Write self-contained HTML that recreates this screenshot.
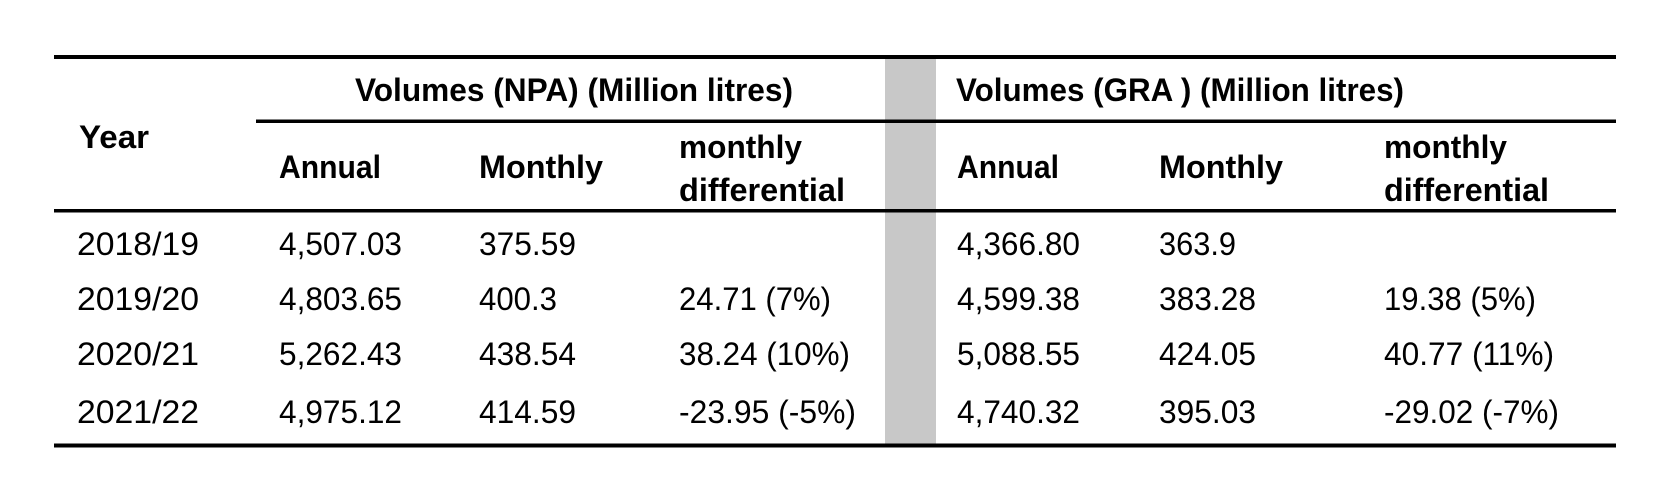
<!DOCTYPE html>
<html><head><meta charset="utf-8"><style>
html,body{margin:0;padding:0;background:#fff;width:1658px;height:504px;overflow:hidden}
svg text{font-family:"Liberation Sans",sans-serif;font-size:32px;fill:#000}
.b{font-weight:bold}
</style></head><body>
<svg width="1658" height="504" xmlns="http://www.w3.org/2000/svg">
<rect x="885" y="55" width="51" height="391" fill="#c8c8c8"/>
<rect x="54" y="55" width="1562" height="4" fill="#000"/>
<rect x="256" y="119.5" width="1360" height="3.5" fill="#000"/>
<rect x="54" y="209" width="1562" height="3.5" fill="#000"/>
<rect x="54" y="443.5" width="1562" height="4" fill="#000"/>
<g class="b">
<text class="b" x="355" y="101" textLength="438" lengthAdjust="spacingAndGlyphs">Volumes (NPA) (Million litres)</text>
<text class="b" x="956" y="101" textLength="448" lengthAdjust="spacingAndGlyphs">Volumes (GRA ) (Million litres)</text>
<text class="b" x="79" y="148" textLength="70" lengthAdjust="spacingAndGlyphs">Year</text>
<text class="b" x="279" y="178" textLength="102" lengthAdjust="spacingAndGlyphs">Annual</text>
<text class="b" x="479" y="178" textLength="124" lengthAdjust="spacingAndGlyphs">Monthly</text>
<text class="b" x="679" y="158" textLength="123" lengthAdjust="spacingAndGlyphs">monthly</text>
<text class="b" x="679" y="201" textLength="166" lengthAdjust="spacingAndGlyphs">differential</text>
<text class="b" x="957" y="178" textLength="102" lengthAdjust="spacingAndGlyphs">Annual</text>
<text class="b" x="1159" y="178" textLength="124" lengthAdjust="spacingAndGlyphs">Monthly</text>
<text class="b" x="1384" y="158" textLength="123" lengthAdjust="spacingAndGlyphs">monthly</text>
<text class="b" x="1384" y="201" textLength="165" lengthAdjust="spacingAndGlyphs">differential</text>
</g>
<g>
<text x="77" y="255" textLength="122" lengthAdjust="spacingAndGlyphs">2018/19</text>
<text x="279" y="255" textLength="123" lengthAdjust="spacingAndGlyphs">4,507.03</text>
<text x="479" y="255" textLength="97" lengthAdjust="spacingAndGlyphs">375.59</text>
<text x="957" y="255" textLength="123" lengthAdjust="spacingAndGlyphs">4,366.80</text>
<text x="1159" y="255" textLength="77" lengthAdjust="spacingAndGlyphs">363.9</text>

<text x="77" y="310" textLength="122" lengthAdjust="spacingAndGlyphs">2019/20</text>
<text x="279" y="310" textLength="123" lengthAdjust="spacingAndGlyphs">4,803.65</text>
<text x="479" y="310" textLength="78" lengthAdjust="spacingAndGlyphs">400.3</text>
<text x="679" y="310" textLength="152" lengthAdjust="spacingAndGlyphs">24.71 (7%)</text>
<text x="957" y="310" textLength="123" lengthAdjust="spacingAndGlyphs">4,599.38</text>
<text x="1159" y="310" textLength="97" lengthAdjust="spacingAndGlyphs">383.28</text>
<text x="1384" y="310" textLength="152" lengthAdjust="spacingAndGlyphs">19.38 (5%)</text>

<text x="77" y="365" textLength="122" lengthAdjust="spacingAndGlyphs">2020/21</text>
<text x="279" y="365" textLength="123" lengthAdjust="spacingAndGlyphs">5,262.43</text>
<text x="479" y="365" textLength="97" lengthAdjust="spacingAndGlyphs">438.54</text>
<text x="679" y="365" textLength="171" lengthAdjust="spacingAndGlyphs">38.24 (10%)</text>
<text x="957" y="365" textLength="123" lengthAdjust="spacingAndGlyphs">5,088.55</text>
<text x="1159" y="365" textLength="97" lengthAdjust="spacingAndGlyphs">424.05</text>
<text x="1384" y="365" textLength="170" lengthAdjust="spacingAndGlyphs">40.77 (11%)</text>

<text x="77" y="423" textLength="122" lengthAdjust="spacingAndGlyphs">2021/22</text>
<text x="279" y="423" textLength="123" lengthAdjust="spacingAndGlyphs">4,975.12</text>
<text x="479" y="423" textLength="97" lengthAdjust="spacingAndGlyphs">414.59</text>
<text x="679" y="423" textLength="177" lengthAdjust="spacingAndGlyphs">-23.95 (-5%)</text>
<text x="957" y="423" textLength="123" lengthAdjust="spacingAndGlyphs">4,740.32</text>
<text x="1159" y="423" textLength="97" lengthAdjust="spacingAndGlyphs">395.03</text>
<text x="1384" y="423" textLength="175" lengthAdjust="spacingAndGlyphs">-29.02 (-7%)</text>
</g>
</svg>
</body></html>
